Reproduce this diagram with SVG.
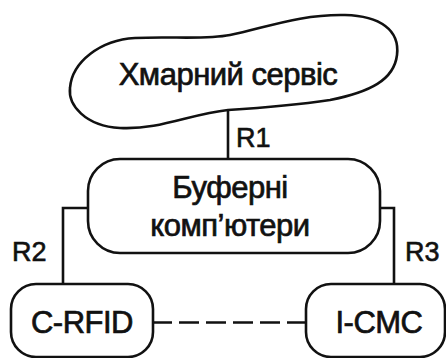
<svg xmlns="http://www.w3.org/2000/svg" width="446" height="358" viewBox="0 0 446 358">
<style>
.shape{fill:#fff;stroke:#111;stroke-width:2.6}
.line{fill:none;stroke:#111;stroke-width:2.6}
.t{font-family:"Liberation Sans",Arial,sans-serif;font-size:31px;fill:#111;stroke:#111;stroke-width:0.7;text-anchor:middle;letter-spacing:-0.5px}
.r{font-family:"Liberation Sans",Arial,sans-serif;font-size:27px;fill:#111;stroke:#111;stroke-width:0.6}
</style>
<rect width="446" height="358" fill="#fff"/>
<g id="connectors">
<path class="line" d="M228 110 V159"/>
<path class="line" d="M88 208 H63 V284"/>
<path class="line" d="M380 208 H394 V284"/>
<path class="line" d="M152 322.5 H307" stroke-dasharray="20 7"/>
<text class="r" x="236" y="147">R1</text>
<text class="r" x="12" y="261">R2</text>
<text class="r" x="405" y="261">R3</text>
</g>
<g id="cloud">
<path class="shape" d="M228 110 C190 114 160 130 120 128 C85 126 68 105 70 88 C72 62 100 40 135 38 C170 36 205 40 230 35 C265 28 300 14 345 15 C380 16 400 30 397 55 C394 80 370 92 330 100 C290 106 260 108 228 110 Z"/>
<text class="t" x="228" y="85">Хмарний сервіс</text>
</g>
<g id="buffer">
<rect class="shape" x="88" y="159" width="292" height="94" rx="32"/>
<text class="t" x="230" y="198">Буферні</text>
<text class="t" x="230" y="236">комп’ютери</text>
</g>
<g id="crfid">
<rect class="shape" x="11" y="284" width="142" height="73" rx="25"/>
<text class="t" x="82" y="333">C-RFID</text>
</g>
<g id="icmc">
<rect class="shape" x="306" y="284" width="139" height="73" rx="25"/>
<text class="t" x="379" y="333">I-CMC</text>
</g>
</svg>
